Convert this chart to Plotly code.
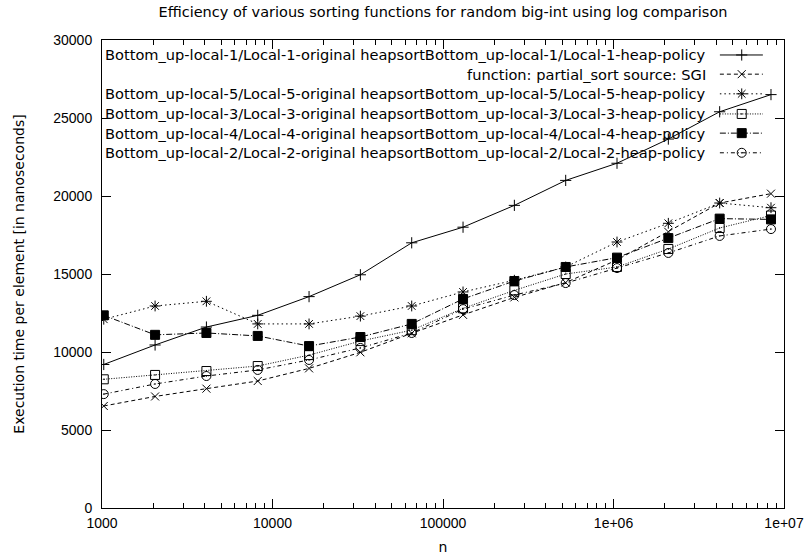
import plotly.graph_objects as go

# ---- data ----
n_values = [1024, 2048, 4096, 8192, 16384, 32768, 65536, 131072, 262144,
            524288, 1048576, 2097152, 4194304, 8388608]

series_names = [
    "Bottom_up-local-1/Local-1-original heapsortBottom_up-local-1/Local-1-heap-policy",
    "function: partial_sort source: SGI",
    "Bottom_up-local-5/Local-5-original heapsortBottom_up-local-5/Local-5-heap-policy",
    "Bottom_up-local-3/Local-3-original heapsortBottom_up-local-3/Local-3-heap-policy",
    "Bottom_up-local-4/Local-4-original heapsortBottom_up-local-4/Local-4-heap-policy",
    "Bottom_up-local-2/Local-2-original heapsortBottom_up-local-2/Local-2-heap-policy",
]

local1 = [9200, 10450, 11600, 12350, 13550, 14950, 17000, 18000, 19400, 21000, 22100, 23650, 25400, 26500]
sgi    = [6540, 7150, 7650, 8140, 8950, 9980, 11200, 12380, 13500, 14450, 15900, 17700, 19550, 20150]
local5 = [12100, 12950, 13250, 11800, 11800, 12300, 12950, 13850, 14600, 15450, 17050, 18250, 19550, 19250]
local3 = [8250, 8530, 8780, 9100, 9800, 10700, 11400, 12800, 13950, 15000, 15450, 16600, 17950, 18750]
local4 = [12350, 11100, 11220, 11030, 10380, 10960, 11800, 13400, 14550, 15450, 16050, 17300, 18550, 18500]
local2 = [7300, 7950, 8460, 8850, 9490, 10260, 11220, 12750, 13650, 14420, 15380, 16350, 17440, 17880]

all_values = [local1, sgi, local5, local3, local4, local2]

x_major = [1000, 10000, 100000, 1000000, 10000000]
x_major_text = ["1000", "10000", "100000", "1e+06", "1e+07"]
x_minor = [m * d for d in [1000, 10000, 100000, 1000000] for m in range(2, 10)]
y_major = [0, 5000, 10000, 15000, 20000, 25000, 30000]
y_major_text = ["0", "5000", "10000", "15000", "20000", "25000", "30000"]

title_text = "Efficiency of various sorting functions for random big-int using log comparison"
x_title = "n"
y_title = "Execution time per element [in nanoseconds]"

# ---- styles ----
FONT = "Liberation Sans, Arial, Helvetica, sans-serif"
TFONT = "DejaVu Sans, Verdana, sans-serif"
dashes = ["solid", "4px,3px", "1.5px,3px", "1px,1.5px", "6px,2px,1px,2px", "4px,3px,1px,3px"]
symbols = ["cross-thin", "x-thin", "asterisk-open", "square-open-dot", "square", "circle-open-dot"]
sizes = [8, 8, 9, 9, 9, 9]

fig = go.Figure()
for name, vals, dsh, sym, sz in zip(series_names, all_values, dashes, symbols, sizes):
    fig.add_trace(go.Scatter(
        x=n_values, y=vals, mode="lines+markers", name=name, showlegend=False,
        line=dict(color="black", width=1, dash=dsh),
        marker=dict(symbol=sym, size=sz, color="black",
                    line=dict(color="black", width=1)),
    ))

# ---- gnuplot-like key (text right-aligned, sample on the right) ----
key_rows = [0.968, 0.927, 0.885, 0.842, 0.801, 0.759]
key_x0, key_x1, key_xm, key_text_x = 0.906, 0.969, 0.938, 0.889
for name, dsh, sym, sz, ky in zip(series_names, dashes, symbols, sizes, key_rows):
    fig.add_trace(go.Scatter(
        x=[key_x0, key_x1], y=[ky, ky], mode="lines", xaxis="x2", yaxis="y2",
        showlegend=False, hoverinfo="skip",
        line=dict(color="black", width=1, dash=dsh)))
    fig.add_trace(go.Scatter(
        x=[key_xm], y=[ky], mode="markers", xaxis="x2", yaxis="y2",
        showlegend=False, hoverinfo="skip",
        marker=dict(symbol=sym, size=sz, color="black", line=dict(color="black", width=1))))
    fig.add_annotation(x=key_text_x, y=ky, xref="x2", yref="y2", text=name,
                       showarrow=False, xanchor="right", yanchor="middle",
                       font=dict(family=TFONT, size=14.6, color="black"))

fig.update_layout(
    width=807, height=556,
    margin=dict(l=102, r=23, t=40, b=48, autoexpand=False),
    paper_bgcolor="white", plot_bgcolor="white",
    font=dict(family=FONT, size=14, color="black"),
    showlegend=False,
    title=dict(text=title_text, x=0.5, xanchor="center", xref="paper",
               y=1 - 12 / 556, yanchor="middle", yref="container", automargin=False,
               font=dict(family=TFONT, size=14.5, color="black")),
    xaxis=dict(type="log", range=[3, 7], tickmode="array", tickvals=x_major,
               ticktext=x_major_text, ticks="inside", ticklen=9, tickcolor="black",
               showline=True, linecolor="black", linewidth=1, mirror="allticks",
               showgrid=False, zeroline=False, ticklabelstandoff=2, automargin=False,
               minor=dict(tickmode="array", tickvals=x_minor, ticks="inside",
                          ticklen=5, tickcolor="black", showgrid=False),
               title=dict(text=x_title, standoff=12, font=dict(family=TFONT, size=14)),
               tickfont=dict(size=14)),
    yaxis=dict(range=[0, 30000], tickmode="array", tickvals=y_major, ticktext=y_major_text,
               ticks="inside", ticklen=9, tickcolor="black",
               showline=True, linecolor="black", linewidth=1, mirror="allticks",
               showgrid=False, zeroline=False, ticklabelstandoff=6, automargin=False,
               title=dict(text=y_title, standoff=25, font=dict(family=TFONT, size=14)),
               tickfont=dict(size=14)),
    xaxis2=dict(overlaying="x", range=[0, 1], visible=False, fixedrange=True),
    yaxis2=dict(overlaying="y", range=[0, 1], visible=False, fixedrange=True),
)

fig.write_html("out.html", config={"displayModeBar": False},
               post_script="document.body.style.margin='0';document.body.style.overflow='hidden';")
